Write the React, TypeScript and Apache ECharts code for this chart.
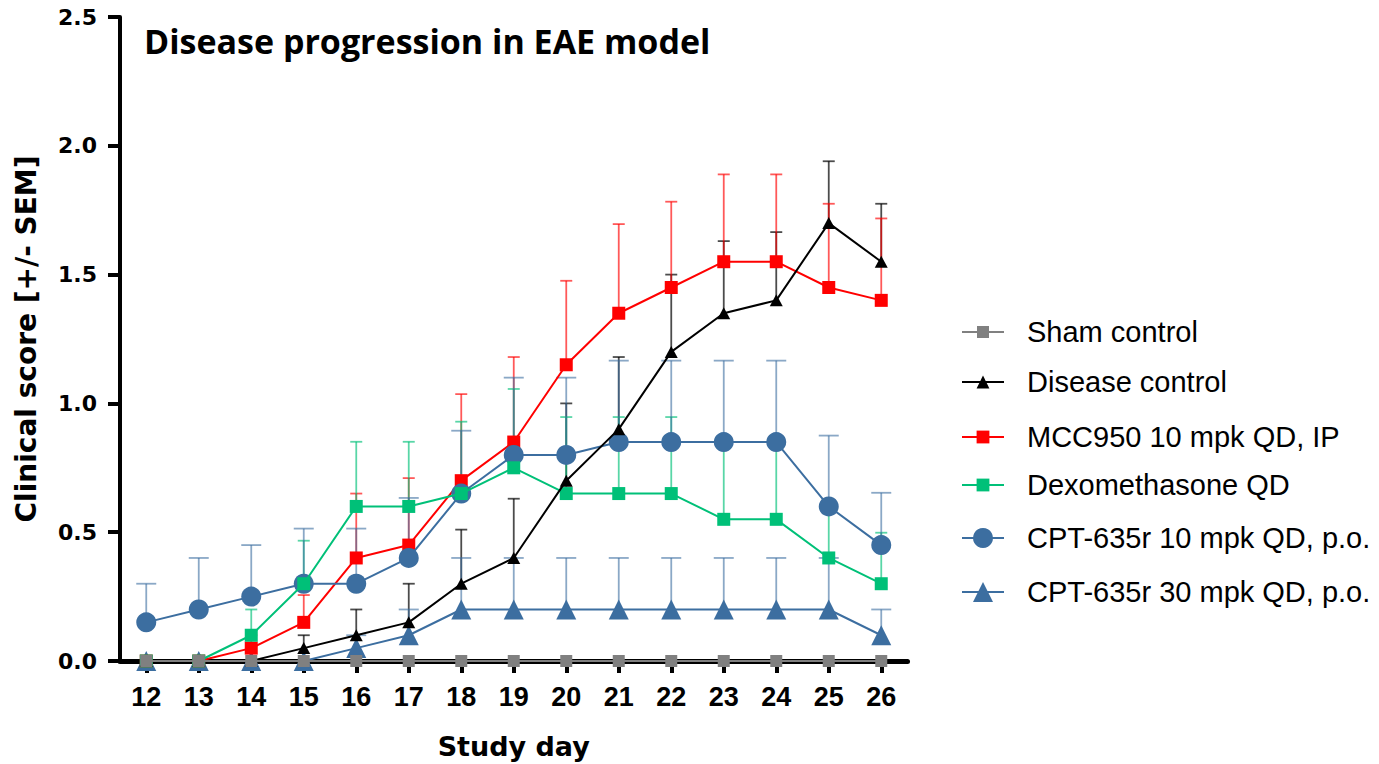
import React, { useEffect, useRef } from "react";
import * as echarts from "echarts";

const days = ["12", "13", "14", "15", "16", "17", "18", "19", "20", "21", "22", "23", "24", "25", "26"];
const yTicks = [0, 0.5, 1.0, 1.5, 2.0, 2.5];

const shamMean = [0, 0, 0, 0, 0, 0, 0, 0, 0, 0, 0, 0, 0, 0, 0];
const shamSem = [0, 0, 0, 0, 0, 0, 0, 0, 0, 0, 0, 0, 0, 0, 0];

const diseaseMean = [0, 0, 0, 0.05, 0.1, 0.15, 0.3, 0.4, 0.7, 0.9, 1.2, 1.35, 1.4, 1.7, 1.55];
const diseaseSem = [0, 0, 0, 0.05, 0.1, 0.15, 0.21, 0.23, 0.3, 0.28, 0.3, 0.28, 0.265, 0.24, 0.225];

const mccMean = [0, 0, 0.05, 0.15, 0.4, 0.45, 0.7, 0.85, 1.15, 1.35, 1.45, 1.55, 1.55, 1.45, 1.4];
const mccSem = [0, 0, 0.05, 0.106, 0.25, 0.26, 0.336, 0.33, 0.326, 0.346, 0.333, 0.339, 0.339, 0.325, 0.318];

const dexMean = [0, 0, 0.1, 0.3, 0.6, 0.6, 0.65, 0.75, 0.65, 0.65, 0.65, 0.55, 0.55, 0.4, 0.3];
const dexSem = [0, 0, 0.1, 0.167, 0.251, 0.251, 0.279, 0.306, 0.297, 0.297, 0.297, 0.282, 0.282, 0.218, 0.198];

const cpt10Mean = [0.15, 0.2, 0.25, 0.3, 0.3, 0.4, 0.65, 0.8, 0.8, 0.85, 0.85, 0.85, 0.85, 0.6, 0.45];
const cpt10Sem = [0.15, 0.2, 0.2, 0.214, 0.214, 0.233, 0.244, 0.3, 0.3, 0.316, 0.316, 0.316, 0.316, 0.275, 0.203];

const cpt30Mean = [0, 0, 0, 0, 0.05, 0.1, 0.2, 0.2, 0.2, 0.2, 0.2, 0.2, 0.2, 0.2, 0.1];
const cpt30Sem = [0, 0, 0, 0, 0.05, 0.1, 0.2, 0.2, 0.2, 0.2, 0.2, 0.2, 0.2, 0.2, 0.1];

const groups = [
  { name: "Sham control", mean: shamMean, sem: shamSem, color: "#808080", errColor: "rgba(128,128,128,0.7)", symbol: "rect", size: 12, cap: 12, z: 7, legendCenter: 332, legendH: 15 },
  { name: "Disease control", mean: diseaseMean, sem: diseaseSem, color: "#000000", errColor: "rgba(0,0,0,0.7)", symbol: "triangle", size: [13, 12], cap: 12, z: 6, legendCenter: 382, legendH: 16 },
  { name: "MCC950 10 mpk QD, IP", mean: mccMean, sem: mccSem, color: "#ff0000", errColor: "rgba(255,0,0,0.65)", symbol: "rect", size: 13, cap: 12, z: 3, legendCenter: 437, legendH: 16 },
  { name: "Dexomethasone QD", mean: dexMean, sem: dexSem, color: "#00c078", errColor: "rgba(0,192,120,0.65)", symbol: "rect", size: 13, cap: 12, z: 5, legendCenter: 485, legendH: 16 },
  { name: "CPT-635r 10 mpk QD, p.o.", mean: cpt10Mean, sem: cpt10Sem, color: "#3c6ea0", errColor: "rgba(60,110,160,0.6)", symbol: "circle", size: 20, cap: 20, z: 4, legendCenter: 538, legendH: 25 },
  { name: "CPT-635r 30 mpk QD, p.o.", mean: cpt30Mean, sem: cpt30Sem, color: "#3c6ea0", errColor: "rgba(60,110,160,0.6)", symbol: "triangle", size: 20, cap: 20, z: 2, legendCenter: 592, legendH: 25 },
];

export default function App() {
  const ref = useRef<HTMLDivElement>(null);
  useEffect(() => {
    document.body.style.margin = "0";
    const chart = echarts.init(ref.current!, null, { renderer: "svg" });
    const lineSeries = groups.map((g) => ({
      type: "line",
      name: g.name,
      data: g.mean,
      symbol: g.symbol,
      symbolSize: g.size,
      clip: false,
      z: g.z + 10,
      itemStyle: { color: g.color, opacity: 1 },
      lineStyle: { color: g.color, width: 2 },
    }));
    const errSeries = groups.map((g) => ({
      type: "custom",
      name: g.name + " SEM",
      clip: false,
      z: 5,
      data: g.mean.map((m, i) => [i, m, g.sem[i]]),
      encode: { x: 0, y: 1 },
      renderItem: (params: any, api: any) => {
        const x = api.value(0);
        const y = api.value(1);
        const e = api.value(2);
        if (!e) return null;
        const p0 = api.coord([x, y]);
        const p1 = api.coord([x, y + e]);
        const st = { stroke: g.errColor, lineWidth: 1.8 };
        return {
          type: "group",
          children: [
            { type: "line", shape: { x1: p0[0], y1: p0[1], x2: p1[0], y2: p1[1] }, style: st },
            { type: "line", shape: { x1: p1[0] - g.cap / 2, y1: p1[1], x2: p1[0] + g.cap / 2, y2: p1[1] }, style: st },
          ],
        };
      },
    }));
    const legends = groups.map((g) => ({
      data: [g.name],
      left: 961,
      top: g.legendCenter - 15,
      orient: "vertical",
      padding: 0,
      itemWidth: 42,
      itemHeight: g.legendH,
      selectedMode: false,
      textStyle: {
        fontFamily: "Liberation Sans, Arial, sans-serif",
        fontSize: 29,
        color: "#000",
        lineHeight: 30,
        padding: [0, 0, 0, 18],
      },
    }));
    chart.setOption({
      animation: false,
      backgroundColor: "#ffffff",
      title: {
        text: "Disease progression in EAE model",
        left: 144,
        top: 24,
        padding: 0,
        textStyle: { fontFamily: "Open Sans, sans-serif", fontWeight: "bold", fontSize: 34, color: "#000" },
      },
      legend: legends,
      grid: { left: 120, top: 17, width: 787.5, height: 644, containLabel: false, outerBoundsMode: "none" },
      xAxis: {
        type: "category",
        data: days,
        boundaryGap: true,
        name: "Study day",
        nameLocation: "middle",
        nameGap: 72,
        nameTextStyle: { fontFamily: "DejaVu Sans, sans-serif", fontWeight: "bold", fontSize: 27, color: "#000" },
        axisLine: { show: true, lineStyle: { color: "#000", width: 5 } },
        axisTick: { show: true, alignWithLabel: true, length: 12, lineStyle: { color: "#000", width: 4 } },
        axisLabel: { fontFamily: "Liberation Sans, Arial, sans-serif", fontWeight: "bold", fontSize: 27, color: "#000", margin: 22 },
        splitLine: { show: false },
      },
      yAxis: {
        type: "value",
        min: yTicks[0],
        max: yTicks[yTicks.length - 1],
        interval: 0.5,
        name: "Clinical score [+/- SEM]",
        nameLocation: "middle",
        nameGap: 80,
        nameTextStyle: { fontFamily: "DejaVu Sans, sans-serif", fontWeight: "bold", fontSize: 28, color: "#000" },
        axisLine: { show: true, lineStyle: { color: "#000", width: 4 } },
        axisTick: { show: true, length: 12, lineStyle: { color: "#000", width: 4 } },
        axisLabel: {
          fontFamily: "DejaVu Sans, sans-serif",
          fontWeight: "bold",
          fontSize: 22,
          color: "#000",
          margin: 23,
          formatter: (v: number) => v.toFixed(1),
        },
        splitLine: { show: false },
      },
      series: [...errSeries, ...lineSeries],
    });
    return () => chart.dispose();
  }, []);
  return <div ref={ref} style={{ position: "fixed", left: 0, top: 0, width: 1379, height: 764 }} />;
}
